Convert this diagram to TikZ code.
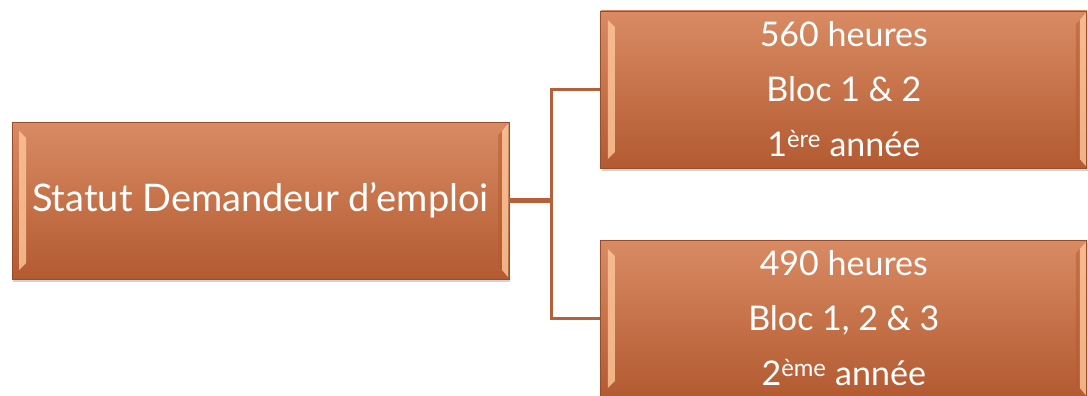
\documentclass[tikz,border=0pt]{standalone}
\usepackage{fontspec}
\setmainfont{Lato}
\usetikzlibrary{positioning,shadows}
\definecolor{boxtop}{HTML}{D98B63}
\definecolor{boxbot}{HTML}{B35A31}
\definecolor{bevel}{HTML}{FBC396}
\definecolor{linkcol}{HTML}{B6603A}

\begin{document}
\begin{tikzpicture}[x=1pt, y=1pt, node distance=91pt,
  box/.style={top color=boxtop, bottom color=boxbot, draw=boxbot!85!black, line width=0.8pt,
    minimum width=486pt, minimum height=157pt, inner sep=0pt, align=center, text=white,
    font=\fontsize{34}{55}\selectfont,
    drop shadow={opacity=0.35, shadow xshift=1pt, shadow yshift=-3pt},
    path picture={
      % bevel strips
      \fill[bevel, opacity=0.85] ([shift={(7pt,-9pt)}]path picture bounding box.north west)
        -- ([shift={(14pt,-16pt)}]path picture bounding box.north west)
        -- ([shift={(14pt,16pt)}]path picture bounding box.south west)
        -- ([shift={(7pt,9pt)}]path picture bounding box.south west) -- cycle;
      \fill[boxbot, opacity=0.5] ([shift={(-7pt,-9pt)}]path picture bounding box.north east)
        -- ([shift={(-11pt,-13pt)}]path picture bounding box.north east)
        -- ([shift={(-11pt,13pt)}]path picture bounding box.south east)
        -- ([shift={(-7pt,9pt)}]path picture bounding box.south east) -- cycle;
      \fill[bevel, opacity=0.85] ([shift={(-1pt,-2pt)}]path picture bounding box.north east)
        -- ([shift={(-7pt,-9pt)}]path picture bounding box.north east)
        -- ([shift={(-7pt,9pt)}]path picture bounding box.south east)
        -- ([shift={(-1pt,2pt)}]path picture bounding box.south east) -- cycle;
    }},
  link/.style={draw=linkcol, line width=3pt}]
  \useasboundingbox (0,0) rectangle (1088,-396);

  \node[box, minimum width=497pt, font=\fontsize{38}{55}\selectfont] (stat) at (260.5,-200.5) {Statut Demandeur d’emploi};
  \node[box] (h560) [right=of stat, yshift=111pt] {560 heures\\Bloc 1 \& 2\\1\textsuperscript{ère} année};
  \node[box] (h490) [right=of stat, yshift=-118pt] {490 heures\\Bloc 1, 2 \& 3\\2\textsuperscript{ème} année};

  \coordinate (fork) at ([xshift=42pt]stat.east);
  \draw[link, line width=4.5pt] (stat) -- (fork);
  \draw[link] (fork) |- (h560);
  \draw[link] (fork) |- (h490);
\end{tikzpicture}
\end{document}
